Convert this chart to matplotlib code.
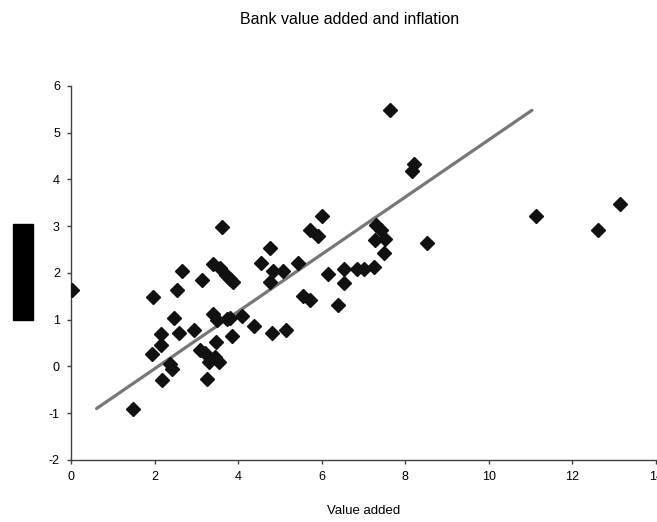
import matplotlib
matplotlib.use('Agg')
import matplotlib.pyplot as plt
from matplotlib.patches import Rectangle

plt.rcParams['font.family'] = ['Liberation Sans', 'DejaVu Sans']
plt.rcParams['axes.unicode_minus'] = False

# scatter values
value_added = [0.03, 1.48, 1.95, 1.94, 2.15, 2.15, 2.18, 2.36, 2.42, 2.47,
               2.53, 2.58, 2.66, 2.95, 3.14, 3.09, 3.20, 3.25, 3.31, 3.39,
               3.40, 3.44, 3.49, 3.47, 3.55, 3.56, 3.62, 3.72, 3.74, 3.80,
               3.88, 3.86, 3.80, 4.09, 4.39, 4.54, 4.77, 4.77, 4.84, 4.82,
               5.07, 5.14, 5.44, 5.56, 5.72, 5.72, 5.92, 6.00, 6.16, 6.40,
               6.53, 6.53, 6.85, 7.02, 7.26, 7.30, 7.42, 7.28, 7.51, 7.49,
               7.63, 8.15, 8.20, 8.53, 11.12, 12.60, 13.13]
inflation = [1.63, -0.90, 1.48, 0.26, 0.69, 0.46, -0.28, 0.05, -0.05, 1.03,
             1.63, 0.72, 2.05, 0.77, 1.84, 0.36, 0.28, -0.26, 0.09, 1.13,
             2.20, 0.20, 0.99, 0.52, 0.09, 2.10, 2.99, 1.96, 1.01, 1.04,
             1.80, 0.66, 1.88, 1.08, 0.86, 2.22, 2.53, 1.80, 2.04, 0.72,
             2.05, 0.77, 2.22, 1.50, 1.43, 2.92, 2.79, 3.21, 1.97, 1.32,
             2.09, 1.79, 2.09, 2.09, 2.12, 3.02, 2.91, 2.70, 2.73, 2.43,
             5.48, 4.19, 4.34, 2.64, 3.21, 2.91, 3.47]

# trend line end points
trend_x = [0.61, 11.03]
trend_y = [-0.90, 5.48]

xticks = [0, 2, 4, 6, 8, 10, 12, 14]
yticks = [-2, -1, 0, 1, 2, 3, 4, 5, 6]

fig = plt.figure(figsize=(6.57, 5.22), dpi=100)
ax = fig.add_axes([0.1081, 0.1188, 0.8904, 0.7165])

ax.plot(value_added, inflation, linestyle='none', marker='D', markersize=6.8,
        color='#111111', zorder=3)
ax.plot(trend_x, trend_y, color='#777777', linewidth=2.3, solid_capstyle='round', zorder=2)

ax.set_xlim(0, 14)
ax.set_ylim(-2, 6)
ax.set_xticks(xticks)
ax.set_yticks(yticks)
for s in ['top', 'right']:
    ax.spines[s].set_visible(False)
for s in ['left', 'bottom']:
    ax.spines[s].set_color('#404040')
    ax.spines[s].set_linewidth(1.0)
ax.tick_params(direction='out', length=3, width=1, color='#404040',
               labelsize=9, pad=5)
ax.set_xlabel('Value added', fontsize=9.5, labelpad=16)

fig.text(350 / 657, 1 - 20 / 522, 'Bank value added and inflation',
         ha='center', va='center', fontsize=11.5)

# y-axis label hidden by a black box
fig.add_artist(Rectangle((13 / 657, 1 - 320 / 522), 20 / 657, 96 / 522,
                         transform=fig.transFigure, color='black'))

fig.savefig('out.png', dpi=100)
